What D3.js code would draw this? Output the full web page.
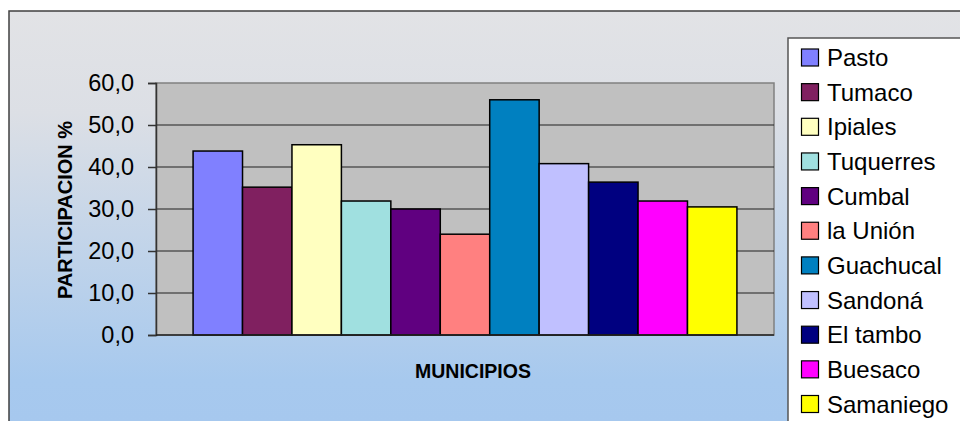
<!DOCTYPE html>
<html><head><meta charset="utf-8">
<script src="https://cdn.jsdelivr.net/npm/d3@7"></script>
<style>html,body{margin:0;padding:0;background:#fff;overflow:hidden}</style>
</head><body>
<svg id="c" width="960" height="421"></svg>
<script>
const categories = ["Pasto","Tumaco","Ipiales","Tuquerres","Cumbal","la Unión","Guachucal","Sandoná","El tambo","Buesaco","Samaniego"];
const values = [43.8, 35.2, 45.3, 31.9, 30.0, 24.0, 56.0, 40.8, 36.4, 31.9, 30.5];
const colors = ["#8080FF","#802060","#FFFFC0","#A0E0E0","#600080","#FF8080","#0080C0","#C0C0FF","#000080","#FF00FF","#FFFF00"];
const yTicks = [0,10,20,30,40,50,60];
const yTitle = "PARTICIPACION %";
const xTitle = "MUNICIPIOS";

const svg = d3.select("#c");
const font = "Liberation Sans, Arial, sans-serif";

const defs = svg.append("defs");
const g = defs.append("linearGradient").attr("id","bg").attr("gradientUnits","userSpaceOnUse")
  .attr("x1",0).attr("y1",11).attr("x2",0).attr("y2",421);
g.append("stop").attr("offset","0").attr("stop-color","#e2e3e6");
g.append("stop").attr("offset","0.25").attr("stop-color","#dcdfe5");
g.append("stop").attr("offset","0.9").attr("stop-color","#a7c9ee");
g.append("stop").attr("offset","1").attr("stop-color","#a6c8ee");

// chart frame
svg.append("rect").attr("x",9).attr("y",11).attr("width",960).attr("height",420)
  .attr("fill","url(#bg)").attr("stroke","#404040").attr("stroke-width",1.5);

const L = 156, R = 774, T = 83, B = 335;
const x = d3.scaleBand().domain(categories).range([L, R]).paddingInner(0).paddingOuter(0.75);
const y = d3.scaleLinear().domain([0,60]).range([B, T]);

// plot area
svg.append("rect").attr("x",L).attr("y",T).attr("width",R-L).attr("height",B-T)
  .attr("fill","#C0C0C0").attr("stroke","#808080").attr("stroke-width",1.5);

// gridlines
svg.append("g").selectAll("line").data(yTicks.filter(d=>d>0 && d<60)).join("line")
  .attr("x1",L).attr("x2",R).attr("y1",d=>y(d)).attr("y2",d=>y(d))
  .attr("stroke","#202020").attr("stroke-width",1);

// bars
svg.append("g").selectAll("rect").data(categories).join("rect")
  .attr("x",d=>x(d)).attr("width",x.bandwidth())
  .attr("y",(d,i)=>y(values[i])).attr("height",(d,i)=>B-y(values[i]))
  .attr("fill",(d,i)=>colors[i]).attr("stroke","#000").attr("stroke-width",1.5);

// y axis
const yAxis = d3.axisLeft(y).tickValues(yTicks).tickSize(8).tickPadding(14)
  .tickFormat(d=>d3.format(".1f")(d).replace(".",","));
const ya = svg.append("g").attr("transform",`translate(${L},0)`).call(yAxis);
ya.select(".domain").attr("stroke","#333").attr("stroke-width",1.5);
ya.selectAll(".tick line").attr("stroke","#333").attr("stroke-width",1.5);
ya.selectAll(".tick text").attr("font-family",font).attr("font-size","23.5px").attr("fill","#000");

// x axis line
svg.append("line").attr("x1",L).attr("x2",R).attr("y1",B).attr("y2",B)
  .attr("stroke","#222").attr("stroke-width",1.5);

// titles
svg.append("text").attr("transform",`translate(72,210) rotate(-90)`).attr("text-anchor","middle")
  .attr("font-family",font).attr("font-weight","bold").attr("font-size","20px").text(yTitle);
svg.append("text").attr("x",473).attr("y",378).attr("text-anchor","middle")
  .attr("font-family",font).attr("font-weight","bold").attr("font-size","19.5px").text(xTitle);

// legend
svg.append("rect").attr("x",788).attr("y",38).attr("width",200).attr("height",420)
  .attr("fill","#fff").attr("stroke","#555").attr("stroke-width",1.5);
const ly = d3.scalePoint().domain(categories).range([57.5, 404]);
const lg = svg.append("g").selectAll("g").data(categories).join("g")
  .attr("transform",d=>`translate(801,${ly(d)})`);
lg.append("rect").attr("x",0.5).attr("y",-8.5).attr("width",17).attr("height",17)
  .attr("fill",(d,i)=>colors[i]).attr("stroke","#000").attr("stroke-width",1.2);
lg.append("text").attr("x",26).attr("y",8.5).attr("font-family",font).attr("font-size","24px")
  .attr("fill","#000").text(d=>d);
</script>
</body></html>
